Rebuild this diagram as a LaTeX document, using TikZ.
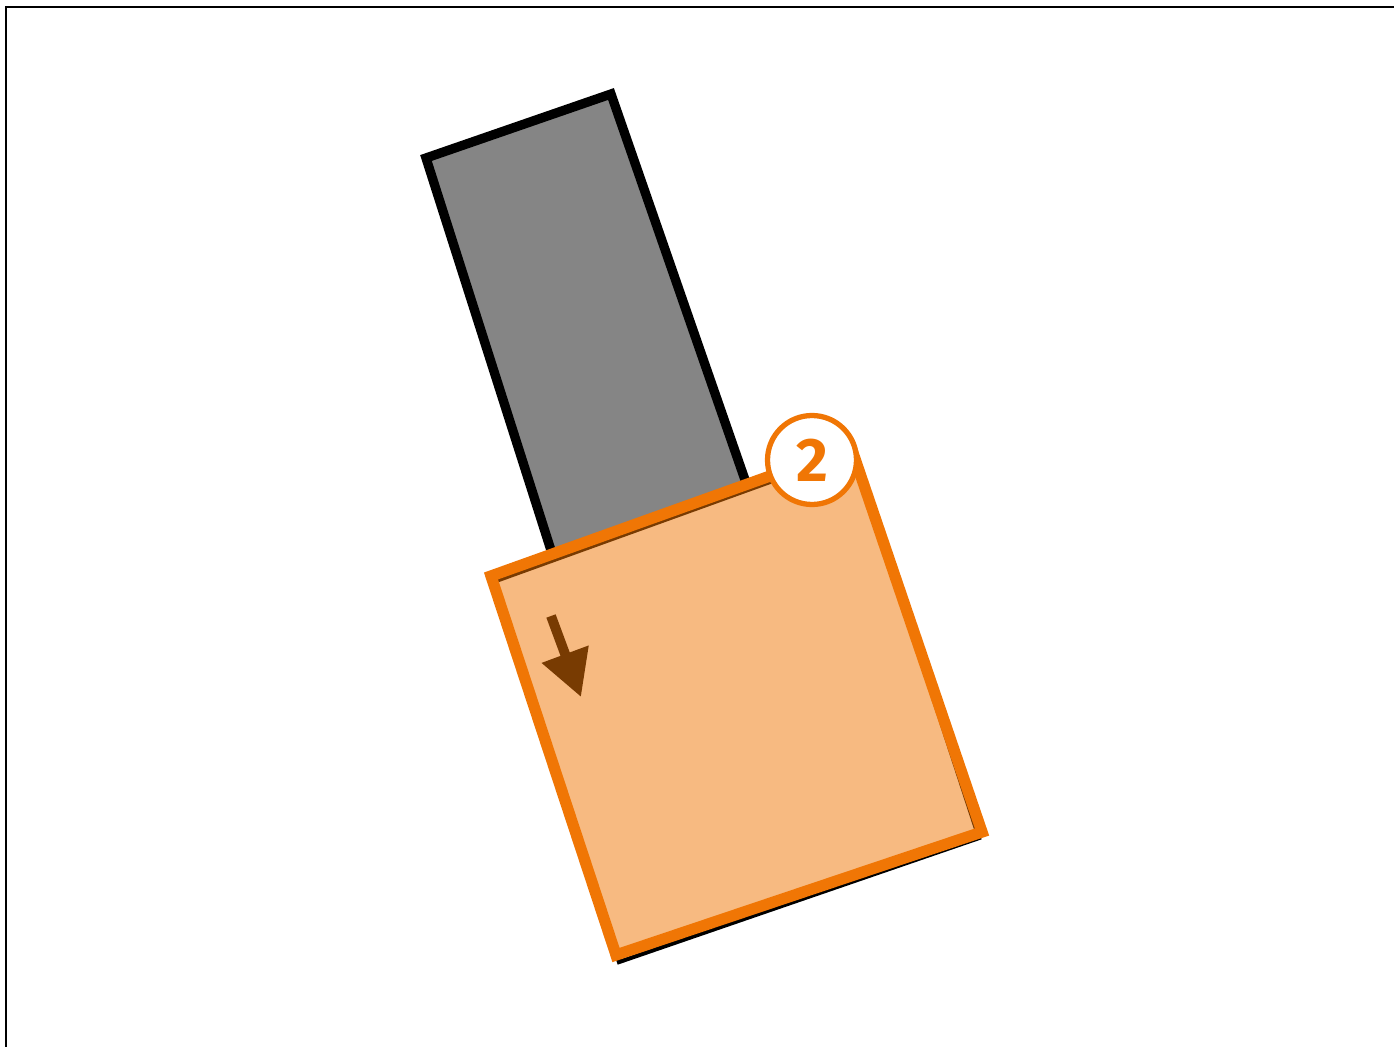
\documentclass[tikz,border=0pt]{standalone}
\usepackage{fontspec}
\setsansfont{Fira Sans}
\usepackage{xcolor}
\usetikzlibrary{arrows.meta,calc}
\definecolor{markorange}{RGB}{240,118,5}
\definecolor{blockgray}{RGB}{133,133,133}

\begin{document}
\begin{tikzpicture}[x=0.02cm,y=-0.02cm,
blockrect/.style={draw=black,fill=blockgray,line width=5.3pt,line join=miter},
oldsquare/.style={draw=black,fill=white,line width=2.4pt},
newsquare/.style={draw=markorange,fill=markorange,fill opacity=0.5,line width=6.4pt,line join=miter},
stepmark/.style={circle,draw=markorange,fill=white,line width=3pt,minimum size=1.78cm,inner sep=0pt,
text=markorange,font=\sffamily\bfseries\fontsize{35}{35}\selectfont},
movearrow/.style={-{Triangle[length=26pt,width=27pt]},line width=5.6pt,black}]
\useasboundingbox (0,0) rectangle (1394,1047);
\draw[line width=1.6pt] (6,7) rectangle (1420,1070);
% long gray block
\coordinate (g1) at (426,158);
\coordinate (g2) at (611,94);
\coordinate (g3) at (752,500);
\coordinate (g4) at (556,566);
\draw[blockrect] (g1) -- (g2) -- (g3) -- (g4) -- cycle;
% square before the move
\coordinate (b1) at (493,582);
\coordinate (b2) at (853,452);
\coordinate (b3) at (979,838);
\coordinate (b4) at (619,962);
\draw[oldsquare] (b1) -- (b2) -- (b3) -- (b4) -- cycle;
\coordinate (arrowstart) at (551,616);
\coordinate (arrowend) at (581,697);
\draw[movearrow] (arrowstart) -- (arrowend);
% square after the move
\coordinate (s1) at (491,576);
\coordinate (s2) at (851,447);
\coordinate (s3) at (982,832);
\coordinate (s4) at (616,955);
\draw[newsquare] (s1) -- (s2) -- (s3) -- (s4) -- cycle;
\node[stepmark] (two) at (812,460) {2};
\end{tikzpicture}
\end{document}
